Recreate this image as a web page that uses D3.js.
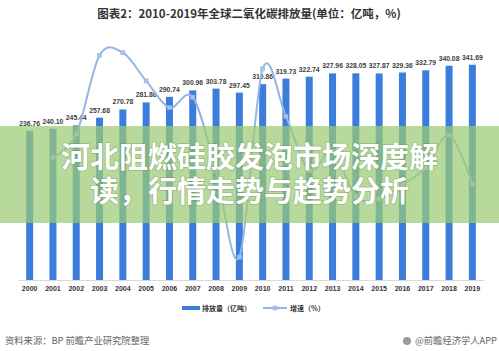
<!DOCTYPE html>
<html lang="zh">
<head>
<meta charset="UTF-8">
<script src="https://d3js.org/d3.v7.min.js"></script>
<style>
    body {margin: 0; background: #fff;}
    svg {display: block; font-family: "Noto Sans CJK SC", "Liberation Sans", sans-serif;}
</style>
</head>
<body>
<svg class="chart"></svg>
<script>
    // values
    var years = ['2000','2001','2002','2003','2004','2005','2006','2007','2008','2009',
                 '2010','2011','2012','2013','2014','2015','2016','2017','2018','2019'];
    var emissions = [236.76, 240.10, 245.44, 257.68, 270.78, 281.86, 290.74, 300.96, 303.78, 297.45,
                     310.86, 319.73, 322.74, 327.96, 328.05, 327.87, 329.36, 332.79, 340.08, 341.69];
    var growth = [null, 1.41, 2.22, 4.99, 5.08, 4.09, 3.15, 3.52, 0.94, -2.09,
                  4.51, 2.85, 0.94, 1.62, 0.03, -0.05, 0.45, 1.04, 2.19, 0.47];
    var legendLabels = ['排放量（亿吨）', '增速（%）'];
    var title = '图表2：2010-2019年全球二氧化碳排放量(单位：亿吨，%)';
    var bannerLines = ['河北阻燃硅胶发泡市场深度解', '读，行情走势与趋势分析'];
    var sourceText = '资料来源：BP 前瞻产业研究院整理';
    var brandText = '@前瞻经济学人APP';

    var width = 499, height = 351;
    var barColor = '#3c7ddb', lineColor = '#93b6e4';
    var numFont = '"Liberation Sans", Arial, sans-serif';

    var svg = d3.select('.chart').attr('width', width).attr('height', height);

    var x = d3.scaleBand().domain(years).range([18, 484])
        .paddingInner(0.7).paddingOuter(0.35);
    var y = d3.scaleLinear().domain([0, 375]).range([280, 43.75]);
    var yRate = d3.scaleLinear().domain([-3, 6]).range([283, 26.5]);

    svg.append('text').attr('x', 249).attr('y', 18).attr('text-anchor', 'middle')
        .attr('font-size', '11.5px').attr('font-weight', 'bold').attr('fill', '#333')
        .text(title);

    // bars
    svg.selectAll('rect.bar').data(emissions).enter().append('rect')
        .attr('class', 'bar')
        .attr('x', function (d, i) { return x(years[i]); })
        .attr('y', function (d) { return y(d); })
        .attr('width', x.bandwidth())
        .attr('height', function (d) { return y(0) - y(d); })
        .attr('fill', barColor);

    svg.selectAll('text.val').data(emissions).enter().append('text')
        .attr('class', 'val')
        .attr('x', function (d, i) { return x(years[i]) + x.bandwidth() / 2; })
        .attr('y', function (d) { return y(d) - 5; })
        .attr('text-anchor', 'middle')
        .style('font-family', numFont)
        .attr('font-size', '6.8px').attr('font-weight', 'bold').attr('fill', '#404040')
        .text(function (d) { return d.toFixed(2); });

    // x axis
    var axis = svg.append('g').attr('transform', 'translate(0,280)')
        .call(d3.axisBottom(x).tickSize(0).tickSizeOuter(0).tickPadding(6));
    axis.select('.domain').attr('stroke', '#d9d9d9');
    axis.selectAll('text').style('font-family', numFont)
        .attr('font-size', '7px').attr('font-weight', 'bold').attr('fill', '#333');

    // growth line
    var pts = growth.map(function (g, i) { return [years[i], g]; })
        .filter(function (d) { return d[1] !== null; });
    var line = d3.line()
        .x(function (d) { return x(d[0]) + x.bandwidth() / 2; })
        .y(function (d) { return yRate(d[1]); })
        .curve(d3.curveCardinal.tension(0));
    svg.append('path').datum(pts).attr('d', line)
        .attr('fill', 'none').attr('stroke', lineColor).attr('stroke-width', 2);
    svg.selectAll('rect.mk').data(pts).enter().append('rect')
        .attr('class', 'mk')
        .attr('x', function (d) { return x(d[0]) + x.bandwidth() / 2 - 2; })
        .attr('y', function (d) { return yRate(d[1]) - 2; })
        .attr('width', 4).attr('height', 4)
        .attr('fill', '#a8c4ea').attr('stroke', lineColor).attr('stroke-width', 0.6);

    // legend
    var lg = svg.append('g');
    lg.append('rect').attr('x', 182).attr('y', 306).attr('width', 18).attr('height', 4).attr('fill', barColor);
    lg.append('text').attr('x', 202).attr('y', 311).attr('font-size', '7px').attr('font-weight', 'bold')
        .attr('fill', '#333').text(legendLabels[0]);
    lg.append('line').attr('x1', 263).attr('x2', 287).attr('y1', 308).attr('y2', 308)
        .attr('stroke', lineColor).attr('stroke-width', 2);
    lg.append('rect').attr('x', 273).attr('y', 306).attr('width', 4).attr('height', 4)
        .attr('fill', '#a8c4ea').attr('stroke', lineColor).attr('stroke-width', 0.6);
    lg.append('text').attr('x', 290).attr('y', 311).attr('font-size', '7px').attr('font-weight', 'bold')
        .attr('fill', '#333').text(legendLabels[1]);

    // footer
    svg.append('text').attr('x', 5).attr('y', 344).attr('font-size', '9.3px').attr('fill', '#666')
        .text(sourceText);
    svg.append('circle').attr('cx', 407).attr('cy', 341).attr('r', 4).attr('fill', '#9a9a9a');
    svg.append('text').attr('x', 497).attr('y', 344).attr('text-anchor', 'end')
        .attr('font-size', '9.3px').attr('fill', '#666').text(brandText);

    // green banner on top, both lines in one text element
    svg.append('rect').attr('x', 0).attr('y', 126).attr('width', width).attr('height', 97)
        .attr('fill', 'rgb(155,203,118)').attr('opacity', 0.72);
    var banner = svg.append('text')
        .attr('text-anchor', 'middle')
        .attr('font-size', '29px').attr('font-weight', 'bold').attr('fill', '#fff')
        .style('paint-order', 'stroke').attr('stroke', 'rgba(90,120,70,0.35)').attr('stroke-width', 1.5);
    banner.selectAll('tspan').data(bannerLines).enter().append('tspan')
        .attr('x', 249.5)
        .attr('y', function (d, i) { return 168 + i * 34; })
        .text(function (d) { return d; });
</script>
</body>
</html>
